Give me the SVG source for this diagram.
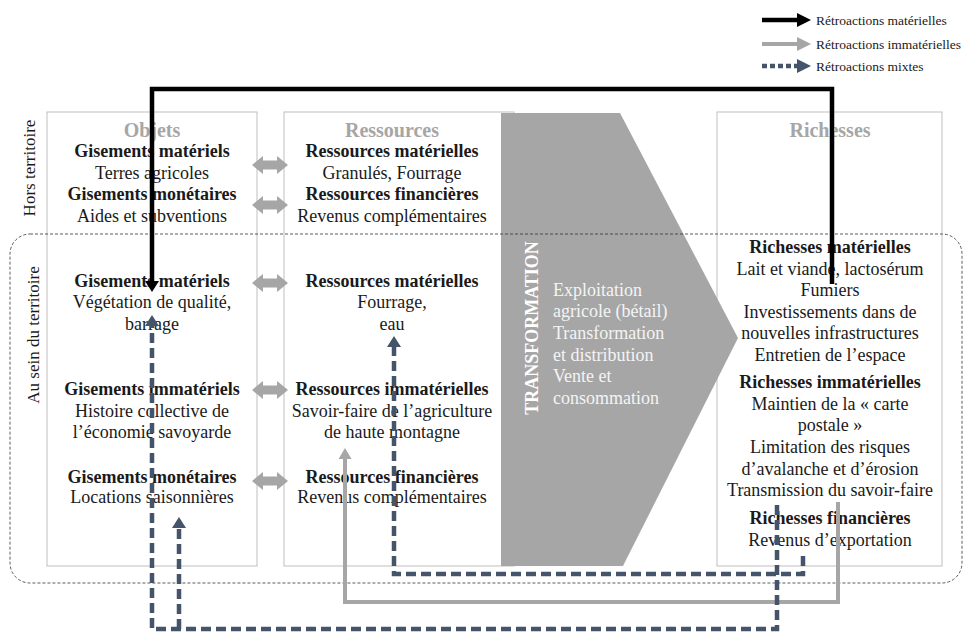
<svg xmlns="http://www.w3.org/2000/svg" xmlns:xlink="http://www.w3.org/1999/xlink" width="967" height="632" viewBox="0 0 967 632">
<style>
.t{font-family:"Liberation Serif","Times New Roman",serif;font-size:18px;fill:#1a1a1a;text-anchor:middle}
.b{font-weight:bold}
.h{font-family:"Liberation Serif","Times New Roman",serif;font-size:20px;font-weight:bold;fill:#a6a6a6;text-anchor:middle}
.box{fill:#fff;stroke:#bfbfbf;stroke-width:1}
.side{font-family:"Liberation Serif","Times New Roman",serif;font-size:17px;fill:#1a1a1a;text-anchor:middle}
.tr{font-family:"Liberation Serif","Times New Roman",serif;font-size:18px;fill:#f4f4f4}
.leg{font-family:"Liberation Serif","Times New Roman",serif;font-size:13.5px;fill:#1a1a1a}
.mat{fill:none;stroke:#000;stroke-width:4.5}
.imm{fill:none;stroke:#a6a6a6;stroke-width:4}
.mix{fill:none;stroke:#44546a;stroke-width:4.5;stroke-dasharray:10 5}
.dbl{fill:#a6a6a6}
</style>
<defs>
<marker id="mBlack" markerUnits="userSpaceOnUse" markerWidth="11" markerHeight="14" viewBox="0 0 11 14" refX="0" refY="7" orient="auto"><path d="M0,0 L11,7 L0,14 Z" fill="#000"/></marker>
<marker id="mGray" markerUnits="userSpaceOnUse" markerWidth="11" markerHeight="13" viewBox="0 0 11 13" refX="0" refY="6.5" orient="auto"><path d="M0,0 L11,6.5 L0,13 Z" fill="#a6a6a6"/></marker>
<marker id="mBlue" markerUnits="userSpaceOnUse" markerWidth="11" markerHeight="14" viewBox="0 0 11 14" refX="0" refY="7" orient="auto"><path d="M0,0 L11,7 L0,14 Z" fill="#44546a"/></marker>
<marker id="lBlack" markerUnits="userSpaceOnUse" markerWidth="14" markerHeight="14" viewBox="0 0 14 14" refX="0" refY="7" orient="auto"><path d="M0,0 L14,7 L0,14 Z" fill="#000"/></marker>
<marker id="lGray" markerUnits="userSpaceOnUse" markerWidth="14" markerHeight="14" viewBox="0 0 14 14" refX="0" refY="7" orient="auto"><path d="M0,0 L14,7 L0,14 Z" fill="#a6a6a6"/></marker>
<marker id="lBlue" markerUnits="userSpaceOnUse" markerWidth="14" markerHeight="14" viewBox="0 0 14 14" refX="0" refY="7" orient="auto"><path d="M0,0 L14,7 L0,14 Z" fill="#44546a"/></marker>
<path id="dblArrow" d="M-18,0 L-7,-9 L-7,-4.5 L7,-4.5 L7,-9 L18,0 L7,9 L7,4.5 L-7,4.5 L-7,9 Z"/>
</defs>
<rect width="967" height="632" fill="#fff"/>

<g id="legend">
<path class="mat" d="M762,20 H797" marker-end="url(#lBlack)"/>
<path class="imm" d="M762,44 H797" marker-end="url(#lGray)"/>
<path class="mix" style="stroke-dasharray:5 3" d="M762,66 H797" marker-end="url(#lBlue)"/>
<text class="leg" x="816" y="25">Rétroactions matérielles</text>
<text class="leg" x="816" y="49">Rétroactions immatérielles</text>
<text class="leg" x="816" y="71">Rétroactions mixtes</text>
</g>

<g id="objets">
<rect class="box" x="47" y="112" width="210" height="454"/>
<text class="h" x="152" y="137">Objets</text>
<text class="t b" x="152" y="157">Gisements matériels</text>
<text class="t" x="152" y="179">Terres agricoles</text>
<text class="t b" x="152" y="200">Gisements monétaires</text>
<text class="t" x="152" y="222">Aides et subventions</text>
<text class="t b" x="152" y="287">Gisements matériels</text>
<text class="t" x="152" y="308">Végétation de qualité,</text>
<text class="t" x="152" y="330">barrage</text>
<text class="t b" x="152" y="395">Gisements  immatériels</text>
<text class="t" x="152" y="417">Histoire collective de</text>
<text class="t" x="152" y="438">l’économie savoyarde</text>
<text class="t b" x="152" y="483">Gisements monétaires</text>
<text class="t" x="152" y="503">Locations saisonnières</text>
</g>

<g id="ressources">
<rect class="box" x="284" y="112" width="230" height="454"/>
<text class="h" x="392" y="137">Ressources</text>
<text class="t b" x="392" y="157">Ressources matérielles</text>
<text class="t" x="392" y="179">Granulés, Fourrage</text>
<text class="t b" x="392" y="200">Ressources financières</text>
<text class="t" x="392" y="222">Revenus complémentaires</text>
<text class="t b" x="392" y="287">Ressources matérielles</text>
<text class="t" x="392" y="308">Fourrage,</text>
<text class="t" x="392" y="330">eau</text>
<text class="t b" x="392" y="395">Ressources immatérielles</text>
<text class="t" x="392" y="417">Savoir-faire de l’agriculture</text>
<text class="t" x="392" y="438">de haute montagne</text>
<text class="t b" x="392" y="483">Ressources financières</text>
<text class="t" x="392" y="503">Revenus complémentaires</text>
</g>

<g id="richesses">
<rect class="box" x="717" y="112" width="225" height="454"/>
<text class="h" x="830" y="137">Richesses</text>
<text class="t b" x="830" y="253">Richesses matérielles</text>
<text class="t" x="830" y="275">Lait et viande, lactosérum</text>
<text class="t" x="830" y="296">Fumiers</text>
<text class="t" x="830" y="318">Investissements dans de</text>
<text class="t" x="830" y="339">nouvelles infrastructures</text>
<text class="t" x="830" y="361">Entretien de l’espace</text>
<text class="t b" x="830" y="388">Richesses immatérielles</text>
<text class="t" x="830" y="410">Maintien de la « carte</text>
<text class="t" x="830" y="431">postale »</text>
<text class="t" x="830" y="453">Limitation des risques</text>
<text class="t" x="830" y="475">d’avalanche et d’érosion</text>
<text class="t" x="830" y="496">Transmission  du savoir-faire</text>
<text class="t b" x="830" y="524">Richesses financières</text>
<text class="t" x="830" y="546">Revenus d’exportation</text>
</g>

<g id="transformation">
<polygon points="501,113 620,113 738,338 623,566 501,566" fill="#a6a6a6"/>
<text class="t b" x="538" y="328" style="fill:#fff" transform="rotate(-90 538 328)">TRANSFORMATION</text>
<text class="tr" x="553" y="296">Exploitation</text>
<text class="tr" x="553" y="317">agricole (bétail)</text>
<text class="tr" x="553" y="339">Transformation</text>
<text class="tr" x="553" y="361">et distribution</text>
<text class="tr" x="553" y="382">Vente et</text>
<text class="tr" x="553" y="404">consommation</text>
</g>

<g id="zones">
<rect x="10" y="234" width="952" height="349" rx="20" ry="20" fill="none" stroke="#333" stroke-width="0.8" stroke-dasharray="3 2"/>
<text class="side" x="35" y="168" transform="rotate(-90 35 168)">Hors territoire</text>
<text class="side" x="39" y="335" transform="rotate(-90 39 335)">Au sein du territoire</text>
</g>

<g id="exchanges" class="dbl">
<use xlink:href="#dblArrow" href="#dblArrow" x="270" y="165"/>
<use xlink:href="#dblArrow" href="#dblArrow" x="270" y="205"/>
<use xlink:href="#dblArrow" href="#dblArrow" x="270" y="283"/>
<use xlink:href="#dblArrow" href="#dblArrow" x="270" y="390"/>
<use xlink:href="#dblArrow" href="#dblArrow" x="270" y="481"/>
</g>

<g id="connectors">
<path class="imm" d="M838,502 V602 H345 V459" marker-end="url(#mGray)"/>
<path class="mix" d="M803,556 V574 H394 V347" marker-end="url(#mBlue)"/>
<path class="mix" d="M777,505 V629 H152 V326" marker-end="url(#mBlue)"/>
<path class="mix" d="M179,629 V528" marker-end="url(#mBlue)"/>
<path class="mat" d="M832,284 V89 H152 V281" marker-end="url(#mBlack)"/>
</g>
</svg>
